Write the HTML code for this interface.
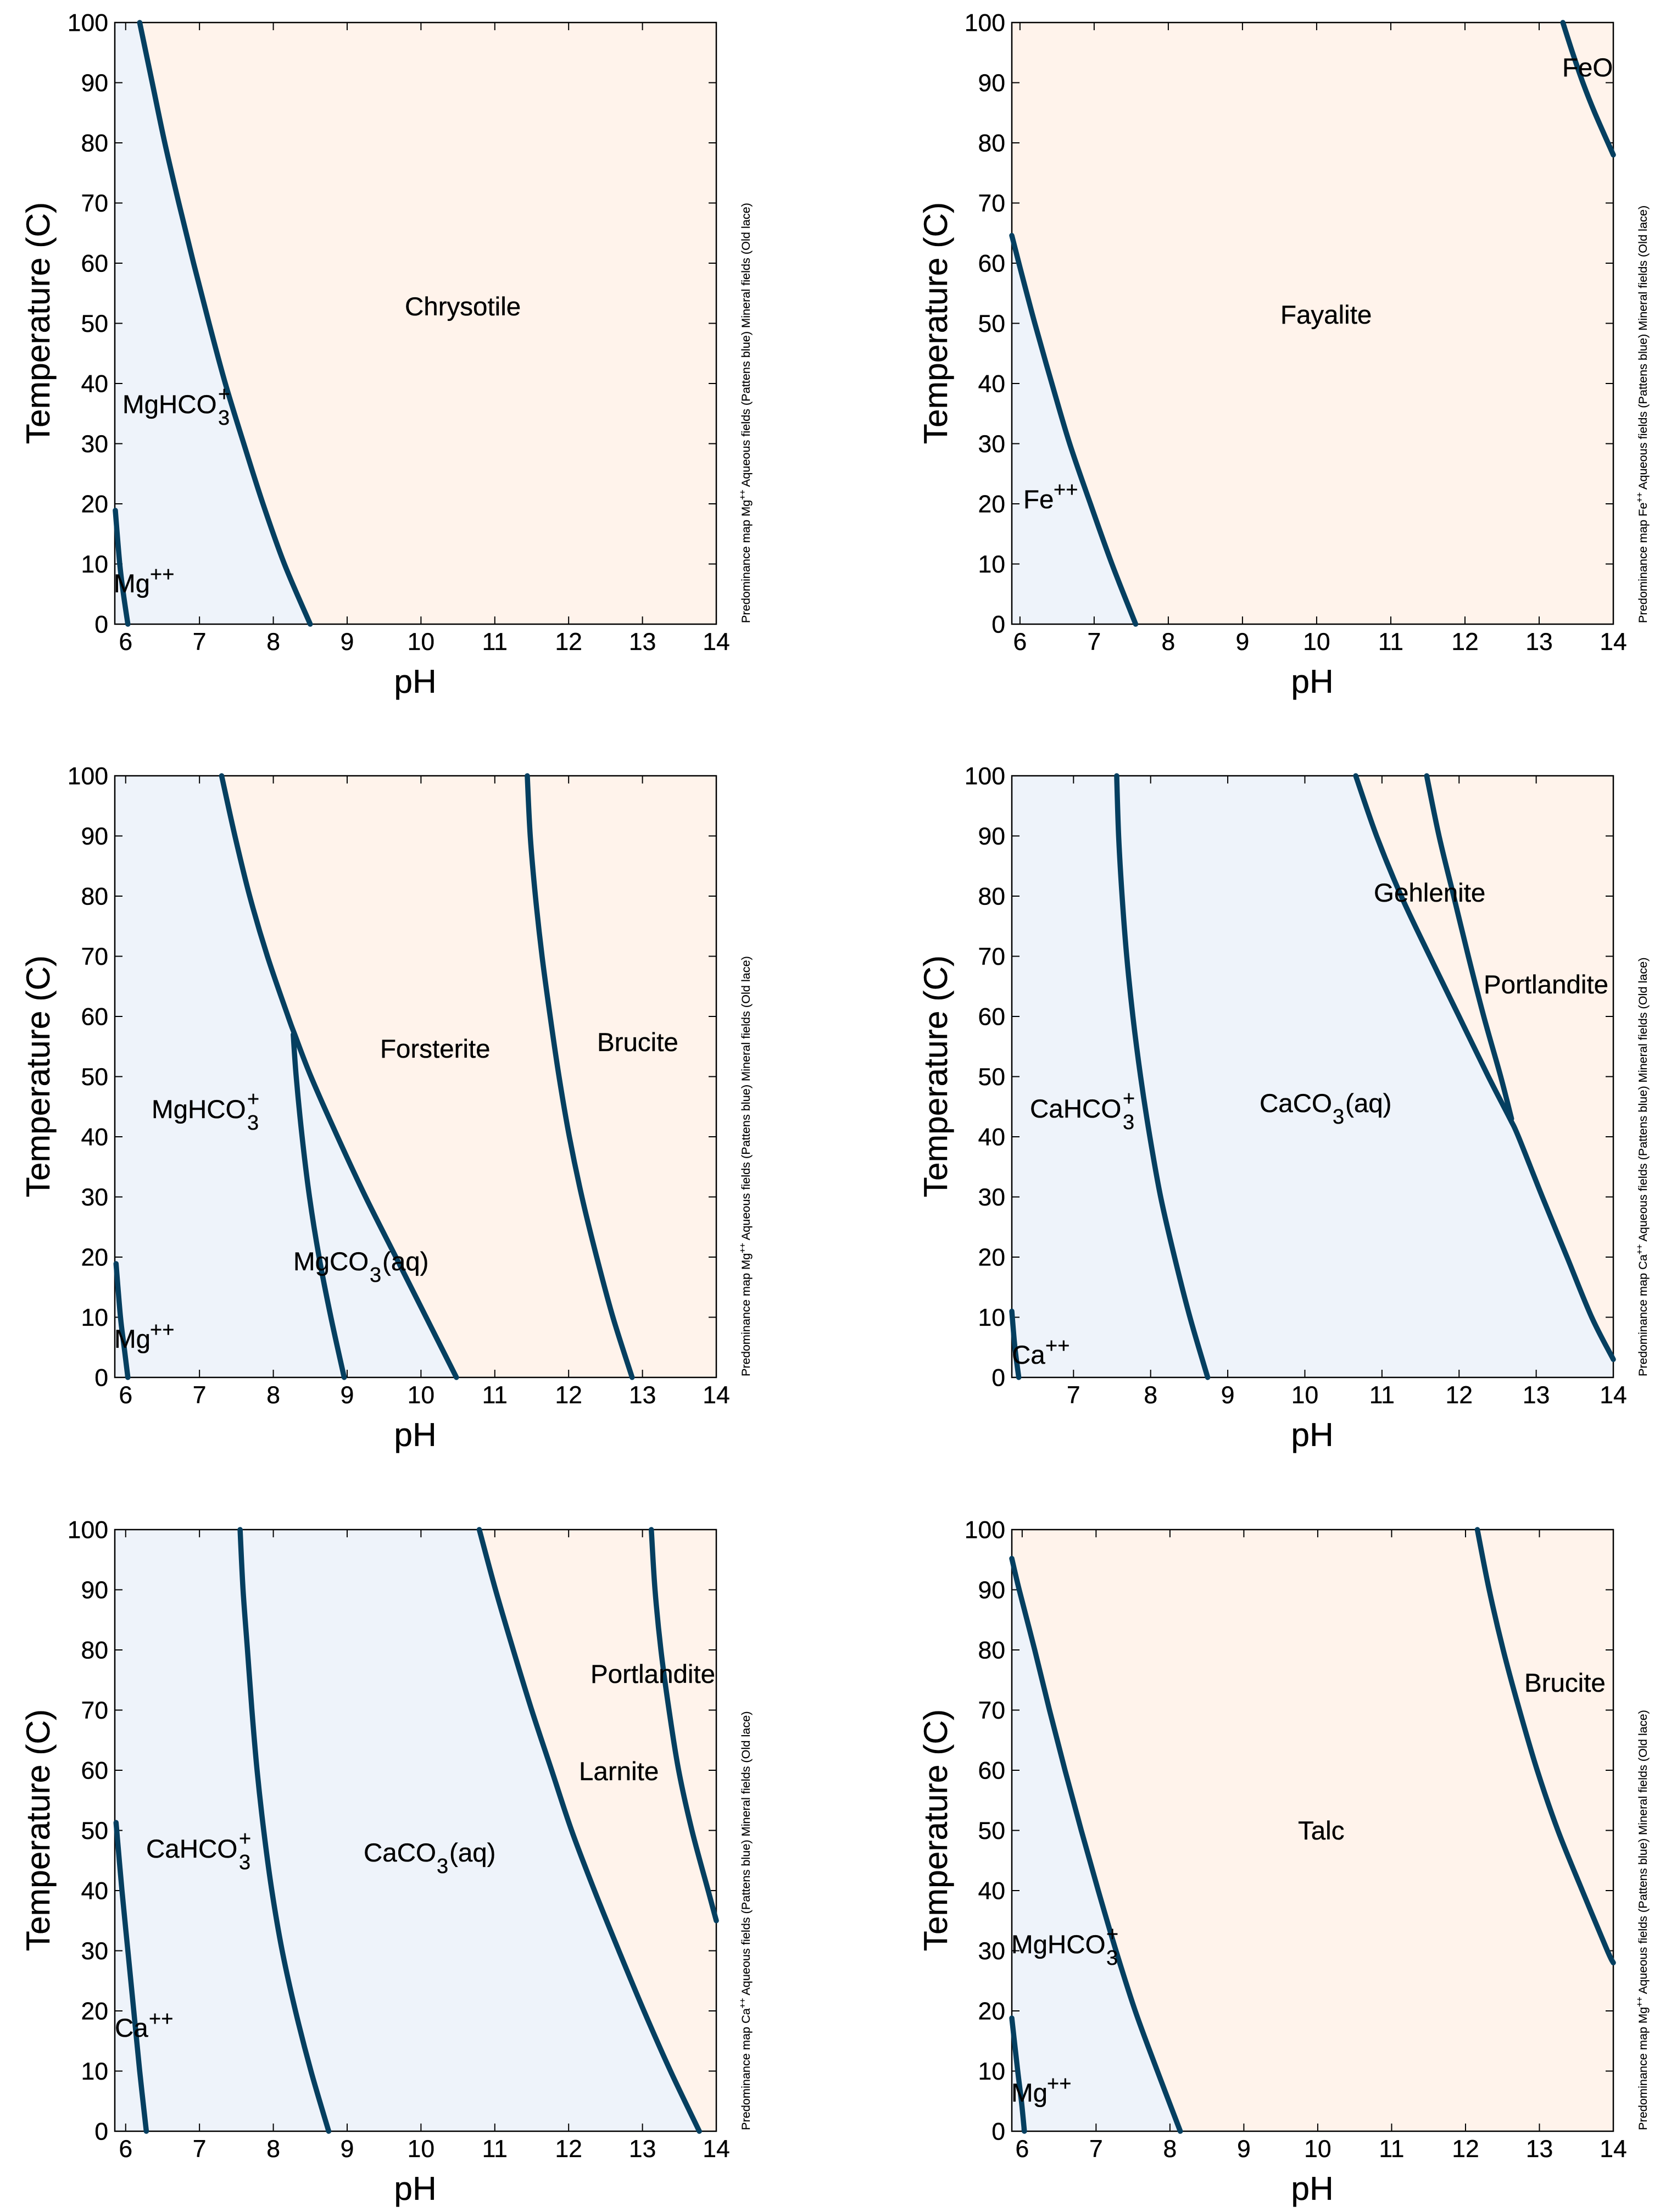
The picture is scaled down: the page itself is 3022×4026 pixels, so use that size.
<!DOCTYPE html>
<html lang="en">
<head>
<meta charset="utf-8">
<title>Predominance maps</title>
<style>
html,body{margin:0;padding:0;background:#fff;}
svg{display:block;}
text{font-family:"Liberation Sans",Arial,sans-serif;fill:#000;stroke:#000;stroke-width:0.35px;}
.lab{font-size:47.5px;}
.scr{font-size:38px;}
.ttl{font-size:60.5px;text-anchor:middle;}
.side{font-size:21.7px;stroke-width:0.2px;}
</style>
</head>
<body>
<svg id="chart" xmlns="http://www.w3.org/2000/svg" width="3022" height="4026" viewBox="0 0 3022 4026">
<rect x="0" y="0" width="3022" height="4026" fill="#ffffff"/>

<g id="marks-1"></g>
<g id="marks-2"></g>
<g id="marks-3"></g>
<g id="marks-4"></g>
<g id="marks-5"></g>
<g id="marks-6"></g>

<!-- Panel 1 -->
<g>
<text class="ttl" transform="translate(90,588) rotate(-90)">Temperature (C)</text>
<text class="ttl" x="756" y="1261">pH</text>
<text class="side" transform="translate(1365,1134) rotate(-90)">Predominance map Mg<tspan style="font-size:16px" dy="-8">++</tspan><tspan dy="8"> Aqueous fields (Pattens blue) Mineral fields (Old lace)</tspan></text>
<text class="lab" x="737" y="574">Chrysotile</text>
<g><text class="lab" x="223" y="752">MgHCO</text><text class="scr" x="397" y="773">3</text><text class="scr" x="397" y="730">+</text></g>
<g><text class="lab" x="207" y="1078">Mg</text><text class="scr" x="273" y="1058">++</text></g>
</g>

<!-- Panel 2 -->
<g>
<text class="ttl" transform="translate(1724,588) rotate(-90)">Temperature (C)</text>
<text class="ttl" x="2389" y="1261">pH</text>
<text class="side" transform="translate(2998,1134) rotate(-90)">Predominance map Fe<tspan style="font-size:16px" dy="-8">++</tspan><tspan dy="8"> Aqueous fields (Pattens blue) Mineral fields (Old lace)</tspan></text>
<text class="lab" x="2331" y="589">Fayalite</text>
<text class="lab" x="2844" y="139">FeO</text>
<g><text class="lab" x="1863" y="925">Fe</text><text class="scr" x="1918" y="904">++</text></g>
</g>

<!-- Panel 3 -->
<g>
<text class="ttl" transform="translate(90,1959) rotate(-90)">Temperature (C)</text>
<text class="ttl" x="756" y="2632">pH</text>
<text class="side" transform="translate(1365,2505) rotate(-90)">Predominance map Mg<tspan style="font-size:16px" dy="-8">++</tspan><tspan dy="8"> Aqueous fields (Pattens blue) Mineral fields (Old lace)</tspan></text>
<text class="lab" x="692" y="1925">Forsterite</text>
<text class="lab" x="1087" y="1913">Brucite</text>
<g><text class="lab" x="276" y="2035">MgHCO</text><text class="scr" x="450" y="2056">3</text><text class="scr" x="450" y="2013">+</text></g>
<g><text class="lab" x="534" y="2312">MgCO</text><text class="scr" x="673" y="2333">3</text><text class="lab" x="696" y="2312">(aq)</text></g>
<g><text class="lab" x="208" y="2453">Mg</text><text class="scr" x="273" y="2433">++</text></g>
</g>

<!-- Panel 4 -->
<g>
<text class="ttl" transform="translate(1724,1959) rotate(-90)">Temperature (C)</text>
<text class="ttl" x="2389" y="2632">pH</text>
<text class="side" transform="translate(2998,2505) rotate(-90)">Predominance map Ca<tspan style="font-size:16px" dy="-8">++</tspan><tspan dy="8"> Aqueous fields (Pattens blue) Mineral fields (Old lace)</tspan></text>
<text class="lab" x="2501" y="1641">Gehlenite</text>
<text class="lab" x="2701" y="1808">Portlandite</text>
<g><text class="lab" x="1875" y="2034">CaHCO</text><text class="scr" x="2044" y="2055">3</text><text class="scr" x="2044" y="2012">+</text></g>
<g><text class="lab" x="2293" y="2024">CaCO</text><text class="scr" x="2426" y="2045">3</text><text class="lab" x="2449" y="2024">(aq)</text></g>
<g><text class="lab" x="1842" y="2482">Ca</text><text class="scr" x="1903" y="2462">++</text></g>
</g>

<!-- Panel 5 -->
<g>
<text class="ttl" transform="translate(90,3331) rotate(-90)">Temperature (C)</text>
<text class="ttl" x="756" y="4004">pH</text>
<text class="side" transform="translate(1365,3877) rotate(-90)">Predominance map Ca<tspan style="font-size:16px" dy="-8">++</tspan><tspan dy="8"> Aqueous fields (Pattens blue) Mineral fields (Old lace)</tspan></text>
<text class="lab" x="1075" y="3063">Portlandite</text>
<text class="lab" x="1054" y="3240">Larnite</text>
<g><text class="lab" x="266" y="3381">CaHCO</text><text class="scr" x="435" y="3402">3</text><text class="scr" x="435" y="3359">+</text></g>
<g><text class="lab" x="662" y="3388">CaCO</text><text class="scr" x="795" y="3409">3</text><text class="lab" x="818" y="3388">(aq)</text></g>
<g><text class="lab" x="209" y="3707">Ca</text><text class="scr" x="271" y="3687">++</text></g>
</g>

<!-- Panel 6 -->
<g>
<text class="ttl" transform="translate(1724,3331) rotate(-90)">Temperature (C)</text>
<text class="ttl" x="2389" y="4004">pH</text>
<text class="side" transform="translate(2998,3877) rotate(-90)">Predominance map Mg<tspan style="font-size:16px" dy="-8">++</tspan><tspan dy="8"> Aqueous fields (Pattens blue) Mineral fields (Old lace)</tspan></text>
<text class="lab" x="2775" y="3079">Brucite</text>
<text class="lab" x="2363" y="3348">Talc</text>
<g><text class="lab" x="1841" y="3555">MgHCO</text><text class="scr" x="2014" y="3576">3</text><text class="scr" x="2014" y="3533">+</text></g>
<g><text class="lab" x="1841" y="3825">Mg</text><text class="scr" x="1906" y="3805">++</text></g>
</g>
</svg>

<script>
// Axis ticks
const tempTicks = [0,10,20,30,40,50,60,70,80,90,100];
const phTicksFull = [6,7,8,9,10,11,12,13,14];
const phTicksCa = [7,8,9,10,11,12,13,14];

// Panel 1: Chrysotile
const p1MgT = [18.9,10,5,0];
const p1MgPH = [5.86,5.92,5.97,6.03];
const p1ChrysotileT = [100,90,80,70,60,50,40,30,20,10,0];
const p1ChrysotilePH = [6.19,6.36,6.53,6.72,6.92,7.13,7.35,7.60,7.86,8.15,8.50];

// Panel 2: Fayalite
const p2FeT = [64.6,59.3,50,40,30,20,10,0];
const p2FePH = [5.89,6.0,6.2,6.43,6.67,6.95,7.24,7.56];
const p2FeoT = [100,95,90,85,78];
const p2FeoPH = [13.32,13.45,13.59,13.75,14];

// Panel 3: Forsterite
const p3MgT = [18.9,10,5,0];
const p3MgPH = [5.87,5.93,5.98,6.03];
const p3UpperT = [100,90,80,70,60,57,50,40,30,20,10,0];
const p3UpperPH = [7.30,7.48,7.68,7.92,8.20,8.29,8.51,8.87,9.25,9.66,10.07,10.48];
const p3CarbonateT = [57,50,40,30,20,10,0];
const p3CarbonatePH = [8.27,8.31,8.39,8.49,8.62,8.78,8.96];
const p3BruciteT = [100,90,80,70,60,50,40,30,20,10,0];
const p3BrucitePH = [11.44,11.48,11.55,11.64,11.75,11.87,12.01,12.18,12.38,12.6,12.86];

// Panel 4: Gehlenite / Portlandite
const p4CaT = [11,5,0];
const p4CaPH = [6.2,6.24,6.29];
const p4HcoT = [100,90,80,70,60,50,40,30,20,10,0];
const p4HcoPH = [7.56,7.585,7.63,7.69,7.77,7.87,7.99,8.13,8.31,8.51,8.74];
const p4GehleniteT = [100,90,80,70,60,50,43,40,30,20,10,3];
const p4GehlenitePH = [10.66,10.93,11.25,11.62,12.0,12.38,12.66,12.77,13.08,13.40,13.72,14.0];
const p4PortlanditeT = [100,90,80,70,60,50,43];
const p4PortlanditePH = [11.58,11.74,11.93,12.12,12.32,12.54,12.68];

// Panel 5: Larnite / Portlandite
const p5CaT = [51.3,40,30,20,10,0];
const p5CaPH = [5.87,5.95,6.03,6.11,6.19,6.28];
const p5HcoT = [100,90,80,70,60,50,40,30,20,10,0];
const p5HcoPH = [7.55,7.59,7.65,7.71,7.78,7.87,7.98,8.12,8.30,8.51,8.75];
const p5LarniteT = [100,90,80,70,60,50,40,30,20,10,0];
const p5LarnitePH = [10.79,11.01,11.25,11.50,11.77,12.04,12.35,12.68,13.02,13.38,13.77];
const p5PortlanditeT = [100,90,80,70,60,50,40,35];
const p5PortlanditePH = [13.12,13.17,13.25,13.36,13.49,13.67,13.89,14.0];

// Panel 6: Talc / Brucite
const p6MgT = [18.8,10,5,0];
const p6MgPH = [5.86,5.94,5.99,6.03];
const p6TalcT = [95.2,90,80,70,60,50,40,30,20,10,0];
const p6TalcPH = [5.86,5.96,6.17,6.37,6.58,6.80,7.03,7.27,7.53,7.83,8.14];
const p6BruciteT = [100,90,80,70,60,50,40,30,28];
const p6BrucitePH = [12.16,12.32,12.51,12.73,12.97,13.25,13.58,13.92,14];

const panels = [
  {id:1,box:[209,41,1304,1136],phMin:5.853,phTicks:phTicksFull,
   curves:[[p1MgPH,p1MgT],[p1ChrysotilePH,p1ChrysotileT]],limit:[p1ChrysotilePH,p1ChrysotileT]},
  {id:2,box:[1842,41,2937,1136],phMin:5.89,phTicks:phTicksFull,
   curves:[[p2FePH,p2FeT],[p2FeoPH,p2FeoT]],limit:[p2FePH,p2FeT]},
  {id:3,box:[209,1412,1304,2507],phMin:5.853,phTicks:phTicksFull,
   curves:[[p3MgPH,p3MgT],[p3UpperPH,p3UpperT],[p3CarbonatePH,p3CarbonateT],[p3BrucitePH,p3BruciteT]],limit:[p3UpperPH,p3UpperT]},
  {id:4,box:[1842,1412,2937,2507],phMin:6.2,phTicks:phTicksCa,
   curves:[[p4CaPH,p4CaT],[p4HcoPH,p4HcoT],[p4GehlenitePH,p4GehleniteT],[p4PortlanditePH,p4PortlanditeT]],limit:[p4GehlenitePH,p4GehleniteT]},
  {id:5,box:[209,2784,1304,3879],phMin:5.853,phTicks:phTicksFull,
   curves:[[p5CaPH,p5CaT],[p5HcoPH,p5HcoT],[p5LarnitePH,p5LarniteT],[p5PortlanditePH,p5PortlanditeT]],limit:[p5LarnitePH,p5LarniteT]},
  {id:6,box:[1842,2784,2937,3879],phMin:5.86,phTicks:phTicksFull,
   curves:[[p6MgPH,p6MgT],[p6TalcPH,p6TalcT],[p6BrucitePH,p6BruciteT]],limit:[p6TalcPH,p6TalcT]}
];

const NS = 'http://www.w3.org/2000/svg';
function make(tag, attrs, parent){
  const el = document.createElementNS(NS, tag);
  for (const k in attrs) el.setAttribute(k, attrs[k]);
  parent.appendChild(el);
  return el;
}
function smoothPath(p){
  let d = 'M' + p[0][0] + ' ' + p[0][1];
  for (let i = 0; i < p.length - 1; i++){
    const a = p[Math.max(i-1,0)], b = p[i], c = p[i+1], e = p[Math.min(i+2,p.length-1)];
    d += ' C' + (b[0]+(c[0]-a[0])/6) + ' ' + (b[1]+(c[1]-a[1])/6) + ' ' +
         (c[0]-(e[0]-b[0])/6) + ' ' + (c[1]-(e[1]-b[1])/6) + ' ' + c[0] + ' ' + c[1];
  }
  return d;
}
panels.forEach(function(pl){
  const g = document.getElementById('marks-' + pl.id);
  const L = pl.box[0], T = pl.box[1], R = pl.box[2], B = pl.box[3];
  const phMax = 14;
  const sx = function(ph){ return L + (ph - pl.phMin) * (R - L) / (phMax - pl.phMin); };
  const sy = function(t){ return B - t * (B - T) / 100; };

  const bg = make('rect', {x:L, y:T, width:R-L, height:B-T, fill:'#fff3eb'}, g);
  
  

  // aqueous region: everything on the low-pH side of the limiting curve
  const lim = pl.limit;
  const pts = [];
  if (lim[1][0] >= 100) pts.push([sx(pl.phMin), sy(100)]);
  lim[0].forEach(function(ph, i){ pts.push([sx(ph), sy(lim[1][i])]); });
  if (lim[1][lim[1].length-1] > 0) pts.push([sx(phMax), sy(0)]);
  pts.push([sx(pl.phMin), sy(0)]);
  const aq = make('path', {d:'M' + pts.map(function(q){return q.join(' ');}).join(' L') + ' Z', fill:'#eef3fa'}, g);
  
  

  // ticks
  pl.phTicks.forEach(function(v){
    const x = sx(v);
    const tb = make('path', {d:'M'+x+' '+T+' V'+(T+14)+' M'+x+' '+B+' V'+(B-14), stroke:'#000', 'stroke-width':2, fill:'none'}, g);
    
    
    const lb = make('text', {x:x, y:B+47, 'font-size':44.5, 'text-anchor':'middle'}, g);
    
    
    lb.textContent = v;
  });
  tempTicks.forEach(function(v){
    const y = sy(v);
    const tl = make('path', {d:'M'+L+' '+y+' H'+(L+14)+' M'+R+' '+y+' H'+(R-14), stroke:'#000', 'stroke-width':2, fill:'none'}, g);
    
    
    const lb = make('text', {x:L-12, y:y+15.5, 'font-size':44.5, 'text-anchor':'end'}, g);
    
    
    lb.textContent = v;
  });

  const frame = make('rect', {x:L, y:T, width:R-L, height:B-T, fill:'none', stroke:'#000', 'stroke-width':2.5}, g);
  
  

  pl.curves.forEach(function(c){
    const line = c[0].map(function(ph, i){ return [sx(ph), sy(c[1][i])]; });
    const cv = make('path', {d:smoothPath(line), fill:'none', stroke:'#053f60', 'stroke-width':9.5, 'stroke-linecap':'round', 'stroke-linejoin':'round'}, g);
    
    
  });
});
</script>
</body>
</html>
